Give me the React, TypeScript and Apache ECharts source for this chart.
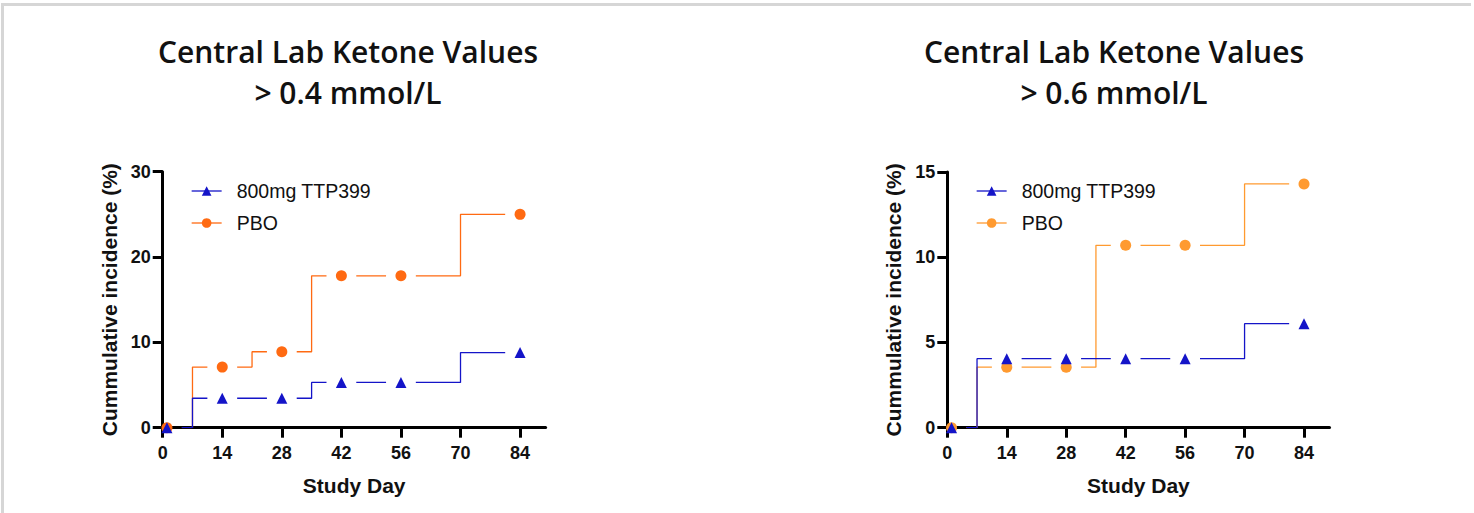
import React, { useEffect, useRef } from "react";
import * as echarts from "echarts";

const markerDays = [1, 14, 28, 42, 56, 84];
const xTicks = [0, 14, 28, 42, 56, 70, 84];

const leftTTP = [0, 3.45, 3.45, 5.3, 5.3, 8.8];
const leftPBO = [0, 7.1, 8.9, 17.8, 17.8, 25.0];
const leftTTPSteps = [7, 35, 70];
const leftPBOSteps = [7, 21, 35, 70];

const rightTTP = [0, 4.05, 4.05, 4.05, 4.05, 6.1];
const rightPBO = [0, 3.55, 3.55, 10.7, 10.7, 14.3];
const rightTTPSteps = [7, 70];
const rightPBOSteps = [7, 35, 70];

const seriesNames = ["800mg TTP399", "PBO"];
const titles = ["Central Lab Ketone Values\n> 0.4 mmol/L", "Central Lab Ketone Values\n> 0.6 mmol/L"];

const BLUE = "#1414c8";
const ORANGE_L = "#ff6a12";
const ORANGE_R = "#ff9a30";
const FONT = "'Liberation Sans', Arial, sans-serif";

function levelAt(x: number, steps: number[], values: number[]) {
  let lvl = values[0];
  for (const s of steps) {
    if (s <= x) {
      const idx = markerDays.findIndex((d) => d >= s);
      lvl = values[idx];
    }
  }
  return lvl;
}

// step-line segments, broken around each marker (as GraphPad draws them)
function stepSegments(steps: number[], values: number[]) {
  const gap = 3.5;
  const segs: number[][][] = [];
  for (let i = 0; i < markerDays.length - 1; i++) {
    const a = markerDays[i] + gap;
    const b = markerDays[i + 1] - gap;
    const pts: number[][] = [];
    pts.push([a, levelAt(a, steps, values)]);
    for (const s of steps) {
      if (s > a && s <= b) {
        pts.push([s, levelAt(s - 1e-6, steps, values)]);
        pts.push([s, levelAt(s, steps, values)]);
      }
    }
    pts.push([b, levelAt(b, steps, values)]);
    segs.push(pts);
  }
  return segs;
}

function points(values: number[]) {
  return markerDays.map((d, i) => [d, values[i]]);
}

export default function App() {
  const ref = useRef<HTMLDivElement>(null);
  useEffect(() => {
    if (!ref.current) return;
    const chart = echarts.init(ref.current, null, { renderer: "svg" });

    const mkX = (gridIndex: number) => ({
      gridIndex,
      type: "value",
      min: 0,
      max: 90,
      name: "Study Day",
      nameLocation: "middle",
      nameGap: 47,
      nameTextStyle: { fontFamily: FONT, fontWeight: "bold", fontSize: 21, color: "#111" },
      axisLine: { show: true, onZero: false, lineStyle: { color: "#000", width: 3 } },
      axisTick: { show: true, length: 10, customValues: xTicks, lineStyle: { color: "#000", width: 3 } },
      axisLabel: { customValues: xTicks, margin: 16, fontFamily: FONT, fontWeight: "bold", fontSize: 18, color: "#111" },
      splitLine: { show: false },
    });
    const mkY = (gridIndex: number, max: number, interval: number) => ({
      gridIndex,
      type: "value",
      min: 0,
      max,
      interval,
      name: "Cummulative incidence (%)",
      nameLocation: "middle",
      nameGap: 43,
      nameTextStyle: { fontFamily: FONT, fontWeight: "bold", fontSize: 21, color: "#111" },
      axisLine: { show: true, onZero: false, lineStyle: { color: "#000", width: 3 } },
      axisTick: { show: true, length: 10, lineStyle: { color: "#000", width: 3 } },
      axisLabel: { margin: 12, fontFamily: FONT, fontWeight: "bold", fontSize: 18, color: "#111" },
      splitLine: { show: false },
    });

    const lineSeries = (name: string, idx: number, steps: number[], values: number[], color: string, symbol: string) =>
      stepSegments(steps, values).map((seg) => ({
        name,
        type: "line",
        xAxisIndex: idx,
        yAxisIndex: idx,
        data: seg,
        showSymbol: false,
        symbol,
        symbolSize: 10,
        lineStyle: { color, width: 1.3 },
        itemStyle: { color },
        silent: true,
        z: 2,
      }));
    const markSeries = (idx: number, values: number[], color: string, symbol: string, size: number, z: number) => ({
      type: "scatter",
      xAxisIndex: idx,
      yAxisIndex: idx,
      data: points(values),
      symbol,
      symbolSize: size,
      itemStyle: { color, opacity: 1 },
      silent: true,
      z,
    });

    const legendFor = (left: number, top: number, orange: string) => ({
      orient: "vertical",
      left,
      top,
      itemWidth: 30,
      itemHeight: 12,
      itemGap: 12,
      selectedMode: false,
      textStyle: { fontFamily: FONT, fontSize: 19.5, color: "#111", padding: [0, 0, 0, 10] },
      data: [
        { name: seriesNames[0], itemStyle: { color: BLUE }, lineStyle: { color: BLUE, width: 1.3 } },
        { name: seriesNames[1], itemStyle: { color: orange }, lineStyle: { color: orange, width: 1.3 } },
      ],
    });

    const titleStyle = {
      align: "center",
      verticalAlign: "top",
      fontFamily: "'Open Sans', sans-serif",
      fontWeight: 600,
      fontSize: 30,
      lineHeight: 41,
      fill: "#111",
    };

    chart.setOption({
      animation: false,
      backgroundColor: "#fff",
      grid: [
        { left: 162.7, top: 171.7, width: 382.9, height: 256 },
        { left: 947.3, top: 172, width: 382.2, height: 255.7 },
      ],
      xAxis: [mkX(0), mkX(1)],
      yAxis: [mkY(0, 30, 10), mkY(1, 15, 5)],
      legend: [legendFor(186, 176, ORANGE_L), legendFor(971, 176, ORANGE_R)],
      graphic: [
        { type: "rect", shape: { x: 1, y: 3, width: 3, height: 510 }, style: { fill: "#d6d6d6" }, silent: true },
        { type: "rect", shape: { x: 1, y: 3, width: 1470, height: 3 }, style: { fill: "#d6d6d6" }, silent: true },
        { type: "text", x: 348, y: 30.5, style: { ...titleStyle, text: titles[0] }, silent: true },
        { type: "text", x: 1114, y: 30.5, style: { ...titleStyle, text: titles[1] }, silent: true },
      ],
      series: [
        ...lineSeries(seriesNames[1], 0, leftPBOSteps, leftPBO, ORANGE_L, "circle"),
        ...lineSeries(seriesNames[0], 0, leftTTPSteps, leftTTP, BLUE, "triangle"),
        markSeries(0, leftPBO, ORANGE_L, "circle", 11, 3),
        markSeries(0, leftTTP, BLUE, "triangle", 11, 4),
        ...lineSeries(seriesNames[1], 1, rightPBOSteps, rightPBO, ORANGE_R, "circle"),
        ...lineSeries(seriesNames[0], 1, rightTTPSteps, rightTTP, BLUE, "triangle"),
        markSeries(1, rightPBO, ORANGE_R, "circle", 11, 3),
        markSeries(1, rightTTP, BLUE, "triangle", 11, 4),
      ],
    });
    return () => chart.dispose();
  }, []);
  return <div ref={ref} style={{ position: "absolute", left: 0, top: 0, width: 1474, height: 513 }} />;
}
